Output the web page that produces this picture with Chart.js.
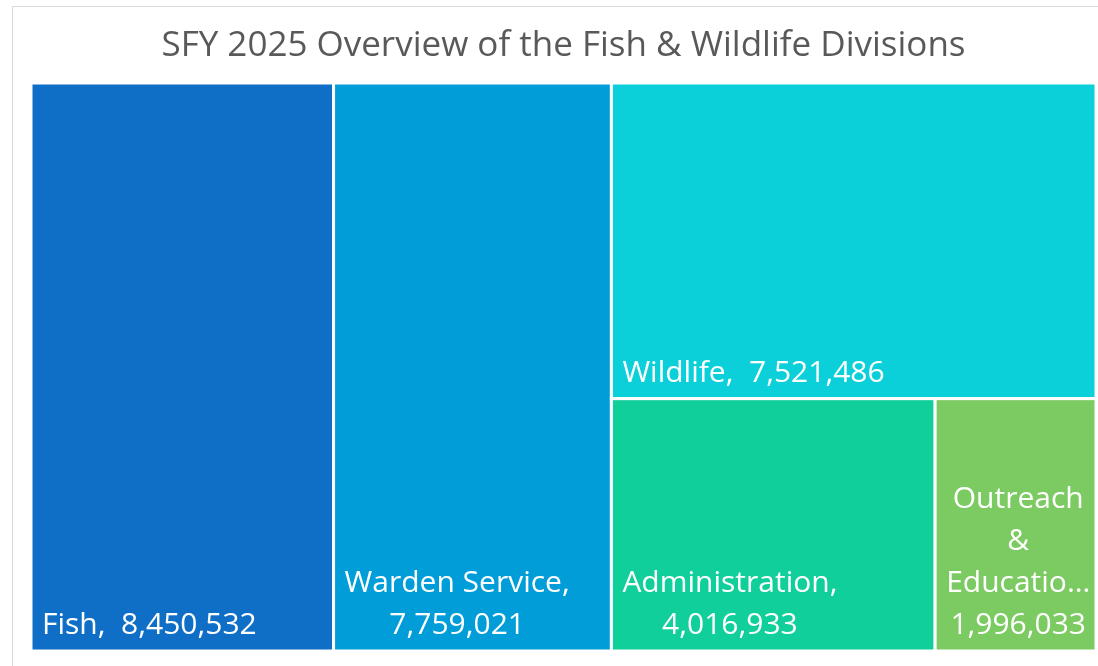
<!DOCTYPE html>
<html>
<head>
<meta charset="utf-8">
<script src="https://cdn.jsdelivr.net/npm/chart.js@4.4.1/dist/chart.umd.min.js"></script>
<style>
  html, body { margin: 0; padding: 0; background: #fff; }
  #wrap { width: 1098px; height: 666px; }
</style>
</head>
<body>
<div id="wrap"><canvas id="treemap" width="1098" height="666"></canvas></div>
<script>
// data
const categories = ['Fish', 'Warden Service', 'Wildlife', 'Administration', 'Outreach & Education'];
const amounts = [8450532, 7759021, 7521486, 4016933, 1996033];
const tileColors = ['#0F6FC6', '#009DD9', '#0BD0D9', '#10CF9B', '#7CCA62'];

const labelFont = '30px "Open Sans", sans-serif';

// peel one tile at a time off the longer side of what's left
function layoutTiles(chart) {
    const xs = chart.scales.x, ys = chart.scales.y;
    let x0 = 0, y0 = 0, x1 = 1, y1 = 1;
    let rest = amounts.reduce((a, b) => a + b, 0);
    const tiles = [];
    amounts.forEach((v, i) => {
        const wPx = Math.abs(xs.getPixelForValue(x1) - xs.getPixelForValue(x0));
        const hPx = Math.abs(ys.getPixelForValue(y1) - ys.getPixelForValue(y0));
        const share = v / rest;
        let r;
        if (i === amounts.length - 1) {
            r = { x0, y0, x1, y1 };
        } else if (wPx >= hPx) {
            const xm = x0 + (x1 - x0) * share;
            r = { x0, y0, x1: xm, y1 };
            x0 = xm;
        } else {
            const ym = y0 + (y1 - y0) * share;
            r = { x0, y0, x1, y1: ym };
            y0 = ym;
        }
        rest -= v;
        tiles.push(r);
    });
    return tiles;
}

function wrapText(ctx, text, maxW, cutW) {
    const words = text.split(' ');
    const lines = [];
    let cur = '';
    words.forEach(w => {
        if (w === '') { cur += ' '; return; }
        const test = cur ? cur + ' ' + w : w;
        if (ctx.measureText(test.trim()).width <= maxW || !cur.trim()) {
            cur = test;
        } else {
            lines.push(cur.trim());
            cur = w;
        }
    });
    if (cur.trim()) lines.push(cur.trim());
    // cut words that still don't fit
    return lines.map(l => {
        if (ctx.measureText(l).width <= maxW) return l;
        let s = l;
        while (s.length > 1 && ctx.measureText(s + '…').width > cutW) s = s.slice(0, -1);
        return s + '…';
    });
}

const treemapPlugin = {
    id: 'treemap',
    beforeDraw(chart) {
        const ctx = chart.ctx;
        ctx.save();
        ctx.strokeStyle = '#D9D9D9';
        ctx.lineWidth = 1;
        ctx.strokeRect(12.5, 6.5, chart.width + 10, chart.height + 10);
        ctx.restore();
    },
    afterDatasetsDraw(chart) {
        const ctx = chart.ctx;
        const xs = chart.scales.x, ys = chart.scales.y;
        const tiles = layoutTiles(chart);
        ctx.save();
        tiles.forEach((r, i) => {
            const left = xs.getPixelForValue(r.x0), right = xs.getPixelForValue(r.x1);
            const top = ys.getPixelForValue(r.y0), bottom = ys.getPixelForValue(r.y1);
            ctx.fillStyle = tileColors[i];
            ctx.fillRect(left, top, right - left, bottom - top);
            ctx.strokeStyle = '#FFFFFF';
            ctx.lineWidth = 3;
            ctx.strokeRect(left, top, right - left, bottom - top);

            ctx.font = labelFont;
            ctx.fillStyle = '#FFFFFF';
            ctx.textAlign = 'center';
            ctx.textBaseline = 'alphabetic';
            const pad = 11;
            const text = categories[i] + ',  ' + amounts[i].toLocaleString('en-US');
            const lines = wrapText(ctx, text, right - left - 2 * pad, right - left - 6);
            const blockW = Math.max(...lines.map(l => ctx.measureText(l).width));
            const cx = Math.min(left + pad + blockW / 2, right - 5 - blockW / 2);
            const lineH = 42;
            lines.forEach((l, k) => {
                const yb = bottom - 17 - (lines.length - 1 - k) * lineH;
                ctx.fillText(l, cx, yb);
            });
        });
        ctx.restore();
    }
};

new Chart(document.getElementById('treemap').getContext('2d'), {
    type: 'scatter',
    data: { datasets: [{ data: [] }] },
    plugins: [treemapPlugin],
    options: {
        responsive: false,
        animation: false,
        layout: { padding: { left: 31, right: 2, top: 0, bottom: 15 } },
        scales: {
            x: { type: 'linear', min: 0, max: 1, display: false },
            y: { type: 'linear', min: 0, max: 1, reverse: true, display: false }
        },
        plugins: {
            legend: { display: false },
            tooltip: { enabled: false },
            title: {
                display: true,
                text: 'SFY 2025 Overview of the Fish & Wildlife Divisions',
                color: '#595959',
                font: { family: '"Open Sans", sans-serif', size: 35, weight: 'normal', lineHeight: 1.2 },
                padding: { top: 25, bottom: 16 }
            }
        }
    }
});
</script>
</body>
</html>
